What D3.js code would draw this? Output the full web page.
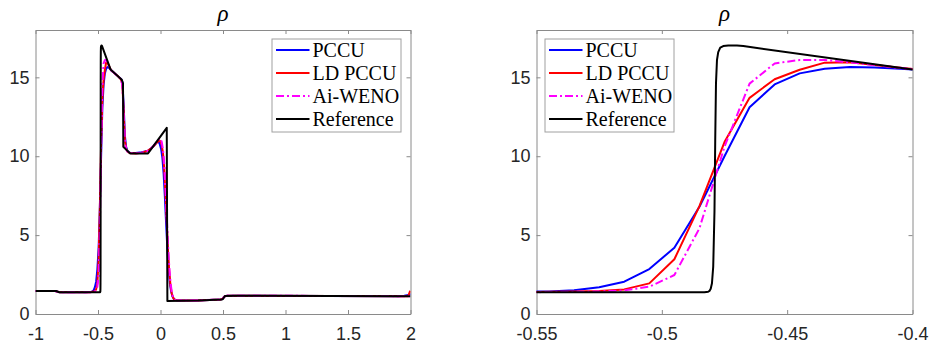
<!DOCTYPE html>
<html>
<head>
<meta charset="utf-8">
<script src="https://cdn.jsdelivr.net/npm/d3@7/dist/d3.min.js"></script>
<style>
  html, body { margin: 0; padding: 0; background: #fff; }
  svg { display: block; }
</style>
</head>
<body>
<svg id="chart" width="930" height="348"></svg>
<script>
// ---------------- DATA ----------------
const seriesNames = ["PCCU", "LD PCCU", "Ai-WENO", "Reference"];
const titleText = "ρ";

const leftXTicks = [-1, -0.5, 0, 0.5, 1, 1.5, 2];
const leftXTickLabels = ["-1", "-0.5", "0", "0.5", "1", "1.5", "2"];
const rightXTicks = [-0.55, -0.5, -0.45, -0.4];
const rightXTickLabels = ["-0.55", "-0.5", "-0.45", "-0.4"];
const yTicks = [0, 5, 10, 15];
const yTickLabels = ["0", "5", "10", "15"];

const pccuData = [
  [-1, 1.46], [-0.845, 1.46], [-0.825, 1.42], [-0.805, 1.38], [-0.6, 1.38], [-0.575, 1.39],
  [-0.565, 1.4], [-0.555, 1.41], [-0.545, 1.43], [-0.535, 1.5], [-0.525, 1.7], [-0.515, 2.05],
  [-0.505, 2.85], [-0.495, 4.2], [-0.485, 6.8], [-0.475, 10.0], [-0.465, 13.1], [-0.455, 14.55],
  [-0.445, 15.25], [-0.435, 15.55], [-0.425, 15.65], [-0.415, 15.62], [-0.405, 15.55], [-0.395, 15.45],
  [-0.37, 15.27], [-0.34, 15.07], [-0.315, 14.9], [-0.305, 14.7], [-0.295, 13.3], [-0.285, 11.3],
  [-0.275, 10.6], [-0.265, 10.35], [-0.245, 10.22], [-0.2, 10.2], [-0.15, 10.25], [-0.1, 10.35],
  [-0.06, 10.6], [-0.03, 10.9], [-0.015, 10.9], [-0.005, 10.75], [0.005, 10.45], [0.015, 9.9],
  [0.025, 8.9], [0.035, 7.4], [0.045, 5.7], [0.055, 4.1], [0.065, 2.85], [0.075, 1.95],
  [0.085, 1.42], [0.095, 1.13], [0.105, 0.98], [0.115, 0.91], [0.13, 0.87], [0.16, 0.85],
  [0.3, 0.86], [0.48, 0.92], [0.495, 0.96], [0.505, 1.05], [0.515, 1.12], [0.53, 1.15],
  [0.6, 1.16], [1.9, 1.12], [1.95, 1.15], [1.985, 1.2], [1.995, 1.25], [2.0, 1.26]
];

const ldPccuData = [
  [-1, 1.46], [-0.845, 1.46], [-0.825, 1.42], [-0.805, 1.38], [-0.565, 1.38], [-0.555, 1.39],
  [-0.545, 1.41], [-0.535, 1.42], [-0.525, 1.45], [-0.515, 1.56], [-0.505, 1.94], [-0.495, 3.47],
  [-0.485, 6.84], [-0.475, 10.9], [-0.465, 13.7], [-0.455, 14.88], [-0.445, 15.48], [-0.435, 15.93],
  [-0.425, 15.95], [-0.415, 15.78], [-0.405, 15.6], [-0.395, 15.45],
  [-0.37, 15.27], [-0.34, 15.07], [-0.315, 14.85], [-0.305, 14.55], [-0.295, 12.9], [-0.285, 11.0],
  [-0.275, 10.5], [-0.265, 10.3], [-0.245, 10.2], [-0.2, 10.18], [-0.15, 10.22], [-0.1, 10.35],
  [-0.06, 10.6], [-0.03, 10.85], [-0.01, 11.0], [0.0, 10.95], [0.01, 10.7], [0.02, 10.2],
  [0.03, 9.2], [0.04, 7.6], [0.05, 5.8], [0.06, 4.0], [0.07, 2.7], [0.08, 1.8],
  [0.09, 1.3], [0.1, 1.05], [0.11, 0.93], [0.125, 0.87], [0.16, 0.85],
  [0.3, 0.86], [0.48, 0.92], [0.495, 0.96], [0.505, 1.05], [0.515, 1.12], [0.53, 1.15],
  [0.6, 1.16], [1.975, 1.12], [1.985, 1.2], [1.995, 1.42], [2.0, 1.45]
];

const aiWenoData = [
  [-1, 1.46], [-0.845, 1.46], [-0.825, 1.42], [-0.805, 1.38], [-0.555, 1.38], [-0.545, 1.39],
  [-0.535, 1.4], [-0.525, 1.43], [-0.515, 1.5], [-0.505, 1.73], [-0.495, 2.47], [-0.485, 5.43],
  [-0.475, 10.6], [-0.465, 14.6], [-0.455, 15.88], [-0.445, 16.1], [-0.435, 16.1], [-0.425, 15.95],
  [-0.415, 15.78], [-0.405, 15.6], [-0.395, 15.45],
  [-0.37, 15.27], [-0.34, 15.07], [-0.315, 14.85], [-0.305, 14.5], [-0.295, 12.7], [-0.285, 10.9],
  [-0.275, 10.45], [-0.265, 10.3], [-0.245, 10.2], [-0.2, 10.18], [-0.15, 10.22], [-0.1, 10.35],
  [-0.06, 10.62], [-0.03, 10.9], [-0.01, 11.08], [0.0, 11.12], [0.01, 10.9], [0.02, 10.4],
  [0.03, 9.5], [0.04, 8.0], [0.05, 6.2], [0.06, 4.4], [0.07, 3.0], [0.08, 2.0],
  [0.09, 1.4], [0.1, 1.1], [0.11, 0.95], [0.12, 0.88], [0.14, 0.85],
  [0.3, 0.86], [0.48, 0.92], [0.495, 0.96], [0.505, 1.05], [0.515, 1.12], [0.53, 1.15],
  [0.6, 1.16], [2.0, 1.13]
];

const referenceData = [
  [-1, 1.46], [-0.835, 1.46], [-0.81, 1.38], [-0.483, 1.38], [-0.4815, 1.41], [-0.481, 1.46],
  [-0.4805, 1.6], [-0.48, 1.95], [-0.4795, 3.0], [-0.479, 6.5], [-0.4787, 11.0], [-0.4784, 14.6],
  [-0.478, 16.1], [-0.4775, 16.6], [-0.4767, 16.88], [-0.4755, 16.98], [-0.4735, 17.01],
  [-0.47, 17.01], [-0.4675, 16.98], [-0.4, 15.5], [-0.35, 15.14], [-0.31, 14.85], [-0.3, 14.62],
  [-0.2975, 10.6], [-0.244, 10.18], [-0.1, 10.18], [0.05, 11.8], [0.055, 0.82], [0.3, 0.85],
  [0.49, 0.92], [0.5, 0.96], [0.515, 1.14], [0.6, 1.16], [2.0, 1.12]
];

// ---------------- STYLE / LAYOUT ----------------
const seriesData = [pccuData, ldPccuData, aiWenoData, referenceData];
const colors = ["#0000ff", "#ff0000", "#ff00ff", "#000000"];
const dashes = [null, null, "8,3,2,3", null];

const plotTop = 30, plotBottom = 314;
const panels = [
  { x0: 35.5, x1: 410.5, domain: [-1, 2], ticks: leftXTicks, labels: leftXTickLabels, legend: "right" },
  { x0: 536.5, x1: 912.5, domain: [-0.55, -0.4], ticks: rightXTicks, labels: rightXTickLabels, legend: "left" }
];

const svg = d3.select("#chart");
const axisColor = "#8a8a8a";
const textColor = "#262626";

panels.forEach((p, pi) => {
  const x = d3.scaleLinear().domain(p.domain).range([p.x0, p.x1]);
  const y = d3.scaleLinear().domain([0, 18]).range([plotBottom, plotTop]);
  const g = svg.append("g");

  const clipId = "clip" + pi;
  svg.append("defs").append("clipPath").attr("id", clipId)
    .append("rect").attr("x", p.x0).attr("y", plotTop)
    .attr("width", p.x1 - p.x0).attr("height", plotBottom - plotTop);

  const xLabel = d => p.labels[p.ticks.indexOf(d)];
  const yLabel = d => yTickLabels[yTicks.indexOf(d)];

  const gx = g.append("g").attr("transform", `translate(0,${plotBottom})`)
    .call(d3.axisBottom(x).tickValues(p.ticks).tickFormat(xLabel).tickSizeInner(-4).tickSizeOuter(0).tickPadding(13));
  const gxt = g.append("g").attr("transform", `translate(0,${plotTop})`)
    .call(d3.axisTop(x).tickValues(p.ticks).tickFormat("").tickSizeInner(-4).tickSizeOuter(0));
  const gy = g.append("g").attr("transform", `translate(${p.x0},0)`)
    .call(d3.axisLeft(y).tickValues(yTicks).tickFormat(yLabel).tickSizeInner(-4).tickSizeOuter(0).tickPadding(6));
  const gyr = g.append("g").attr("transform", `translate(${p.x1},0)`)
    .call(d3.axisRight(y).tickValues(yTicks).tickFormat("").tickSizeInner(-4).tickSizeOuter(0));

  [gx, gxt, gy, gyr].forEach(a => {
    a.selectAll(".domain").attr("stroke", axisColor).attr("stroke-width", 1);
    a.selectAll(".tick line").attr("stroke", axisColor).attr("stroke-width", 1);
    a.selectAll(".tick text").attr("fill", textColor)
      .style("font-family", "'Liberation Sans', Arial, sans-serif").style("font-size", "18px");
  });

  const line = d3.line().x(d => x(d[0])).y(d => y(d[1]));
  const lg = g.append("g").attr("clip-path", `url(#${clipId})`);
  seriesData.forEach((data, i) => {
    lg.append("path").datum(data)
      .attr("d", line)
      .attr("fill", "none")
      .attr("stroke", colors[i])
      .attr("stroke-width", 2)
      .attr("stroke-linejoin", "round")
      .attr("stroke-dasharray", dashes[i]);
  });

  // title
  g.append("text")
    .attr("x", (p.x0 + p.x1) / 2).attr("y", 20.5)
    .attr("text-anchor", "middle")
    .style("font-family", "'Liberation Serif', 'Times New Roman', serif")
    .style("font-style", "italic").style("font-size", "23px")
    .attr("fill", "#000")
    .text(titleText);

  // legend
  const legW = 129, legH = 93;
  const lx = p.legend === "right" ? p.x1 - 9.5 - legW : p.x0 + 8.5;
  const ly = plotTop + 9;
  const leg = g.append("g").attr("transform", `translate(${lx},${ly})`);
  leg.append("rect").attr("x", 0).attr("y", 0).attr("width", legW).attr("height", legH)
    .attr("fill", "#fff").attr("stroke", "#a0a0a0").attr("stroke-width", 1);
  seriesNames.forEach((name, i) => {
    const ry = 11 + i * 23;
    leg.append("line").attr("x1", 4).attr("x2", 37.5).attr("y1", ry).attr("y2", ry)
      .attr("stroke", colors[i]).attr("stroke-width", 2)
      .attr("stroke-dasharray", dashes[i]);
    leg.append("text").attr("x", 40.5).attr("y", ry + 6.8)
      .style("font-family", "'Liberation Serif', 'Times New Roman', serif")
      .style("font-size", "20px").attr("fill", "#000")
      .text(name);
  });
});
</script>
</body>
</html>
